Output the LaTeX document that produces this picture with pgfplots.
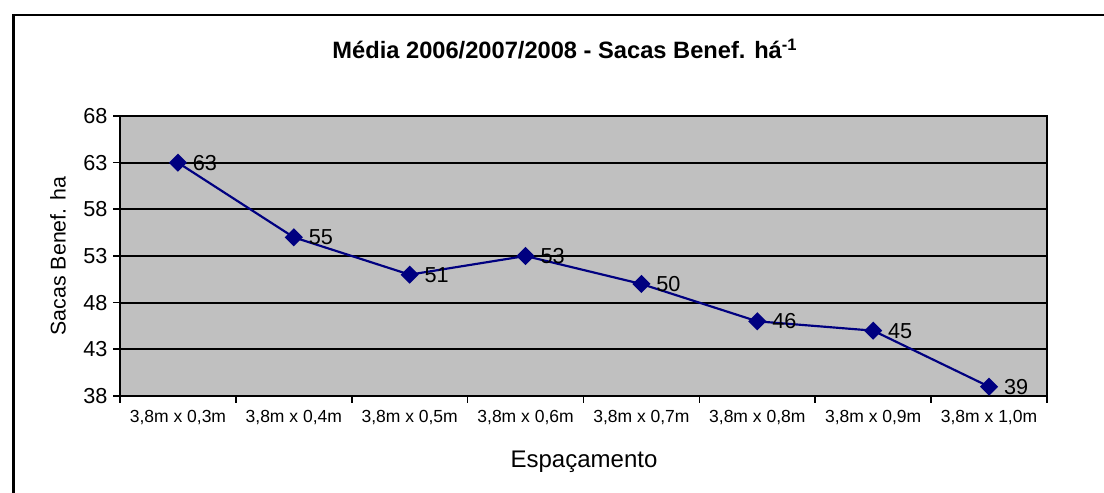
\documentclass[border=0pt]{standalone}
\usepackage{pgfplots}
\pgfplotsset{compat=1.18}
\usepackage{fontspec}
\setmainfont{Liberation Sans}
\definecolor{plotgray}{HTML}{C0C0C0}
\definecolor{navyline}{HTML}{000080}
\begin{document}
\begin{tikzpicture}
\path[use as bounding box] (0pt,0pt) rectangle (662.4pt,295.8pt);
\draw[line width=1.5pt] (8.1pt,-2pt) -- (8.1pt,286.8pt) -- (665pt,286.8pt);
\begin{axis}[
  at={(106.76pt,58.2pt)}, anchor=origin,
  scale only axis, width=556.2pt, height=168pt,
  xmin=-0.5, xmax=7.5, ymin=38, ymax=68,
  ytick={38,43,48,53,58,63,68},
  xtick={0,...,7},
  xticklabels={{3,8m x 0,3m},{3,8m x 0,4m},{3,8m x 0,5m},{3,8m x 0,6m},{3,8m x 0,7m},{3,8m x 0,8m},{3,8m x 0,9m},{3,8m x 1,0m}},
  minor xtick={-0.5,0.5,...,7.5},
  major x tick style={draw=none},
  tick align=outside, major tick length=4pt, minor tick length=4pt,
  tick style={black, line width=1pt},
  axis x line*=bottom, axis y line*=left,
  axis line style={line width=1.5pt, black},
  axis background/.style={fill=plotgray},
  ymajorgrids, grid style={black, line width=1.2pt},
  /pgf/number format/assume math mode=true,
  yticklabel style={font=\fontsize{13}{15}\selectfont},
  xticklabel style={font=\fontsize{10.5}{13}\selectfont, yshift=-1pt},
  clip=false,
]
\draw[black, line width=1.5pt] (rel axis cs:0,1) -- (rel axis cs:1,1) -- (rel axis cs:1,0);
\addplot[navyline, line width=1.3pt, mark=square*, mark size=3.2pt,
  mark options={rotate=45, fill=navyline, draw=navyline},
  nodes near coords, every node near coord/.append style={anchor=west, xshift=5pt, black, font=\fontsize{13}{15}\selectfont}]
  coordinates {(0,63) (1,55) (2,51) (3,53) (4,50) (5,46) (6,45) (7,39)};
\end{axis}
\node[anchor=base, font=\bfseries\fontsize{14.2}{16}\selectfont] at (339pt,260.4pt) {Média 2006/2007/2008 - Sacas Benef. há\textsuperscript{-1}};
\node[anchor=base, font=\fontsize{14.4}{16}\selectfont] at (350.4pt,15pt) {Espaçamento};
\node[font=\fontsize{12.8}{14}\selectfont, rotate=90] at (34.8pt,142.2pt) {Sacas Benef. ha};
\end{tikzpicture}
\end{document}
